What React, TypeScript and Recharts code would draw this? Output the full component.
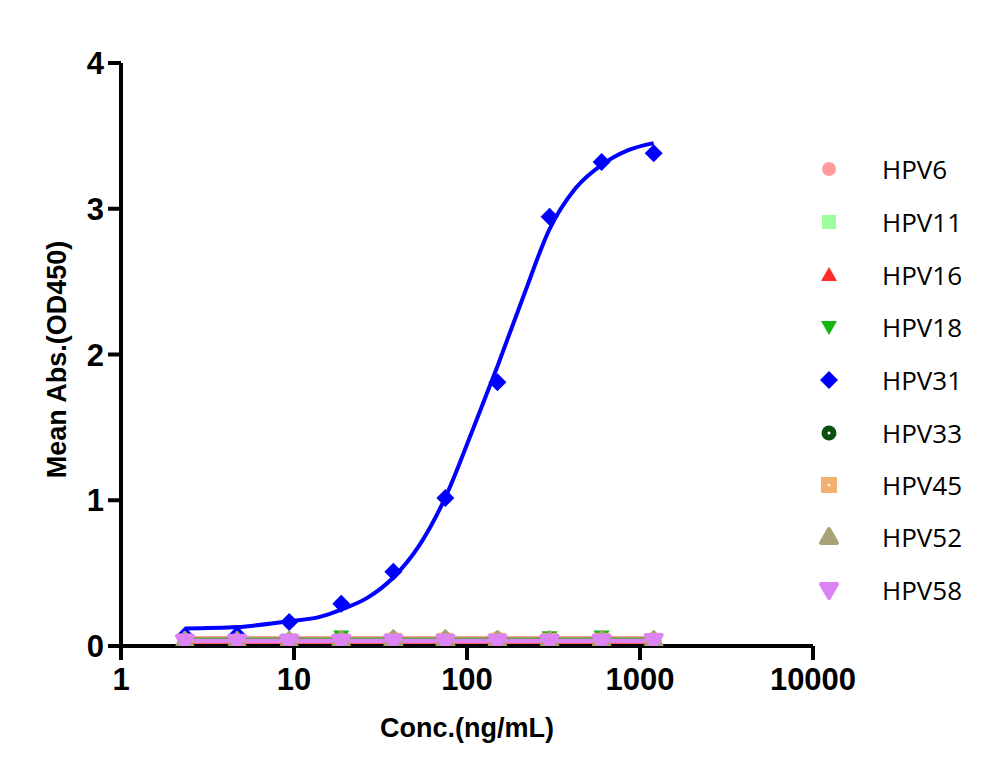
import React from "react";
import { ComposedChart, Line, Scatter, XAxis, YAxis } from "recharts";

// dilution series (ng/mL)
const conc = [2.34, 4.69, 9.38, 18.75, 37.5, 75, 150, 300, 600, 1200];

// mean OD450 per antigen
const hpv6 = [0.04, 0.04, 0.04, 0.05, 0.055, 0.055, 0.055, 0.05, 0.05, 0.05];
const hpv11 = [0.03, 0.03, 0.04, 0.04, 0.04, 0.04, 0.04, 0.04, 0.04, 0.04];
const hpv16 = [0.03, 0.03, 0.03, 0.03, 0.025, 0.025, 0.03, 0.03, 0.03, 0.025];
const hpv18 = [0.03, 0.03, 0.04, 0.065, 0.04, 0.04, 0.04, 0.06, 0.065, 0.04];
const hpv31 = [0.07, 0.075, 0.165, 0.29, 0.51, 1.015, 1.81, 2.945, 3.32, 3.38];
const hpv33 = [0.03, 0.03, 0.03, 0.035, 0.04, 0.04, 0.04, 0.045, 0.04, 0.04];
const hpv45 = [0.03, 0.025, 0.03, 0.03, 0.035, 0.035, 0.035, 0.035, 0.035, 0.035];
const hpv52 = [0.035, 0.035, 0.035, 0.04, 0.045, 0.045, 0.04, 0.04, 0.04, 0.04];
const hpv58 = [0.03, 0.03, 0.03, 0.03, 0.03, 0.03, 0.03, 0.03, 0.03, 0.035];

// fitted curve for HPV31
const curveConc = [2.34, 4.69, 9.38, 14.1, 18.75, 26.5, 37.5, 53, 75, 106, 150, 212, 300, 424, 600, 848, 1200];
const curveHpv31 = [0.12, 0.13, 0.17, 0.2, 0.25, 0.33, 0.47, 0.69, 1.02, 1.46, 1.92, 2.4, 2.86, 3.14, 3.3, 3.4, 3.45];

// flat fits of the non-binding antigens
const fitLevels = [0.055, 0.04, 0.03, 0.045, 0, 0.04, 0.035, 0.04, 0.035];

const names = ["HPV6", "HPV11", "HPV16", "HPV18", "HPV31", "HPV33", "HPV45", "HPV52", "HPV58"];
const values = [hpv6, hpv11, hpv16, hpv18, hpv31, hpv33, hpv45, hpv52, hpv58];
const colors = ["#FF9C9C", "#9CFF9C", "#FF2A2A", "#10B810", "#0000FF", "#0A5010", "#F0B070", "#AAA276", "#DD84F4"];
const shapes = ["circle", "square", "triangle", "triangleDown", "diamond", "dotCircle", "dotSquare", "roundTriangle", "roundTriangleDown"];

const xTicks = [1, 10, 100, 1000, 10000];
const yTicks = [0, 1, 2, 3, 4];

const Marker = ({ kind, cx, cy, color }: { kind: string; cx: number; cy: number; color: string }) => {
  switch (kind) {
    case "circle":
      return <circle cx={cx} cy={cy} r={7} fill={color} />;
    case "square":
      return <rect x={cx - 7} y={cy - 7} width={14} height={14} fill={color} />;
    case "triangle":
      return <path d={`M${cx},${cy - 8} L${cx + 8},${cy + 6} L${cx - 8},${cy + 6} Z`} fill={color} />;
    case "triangleDown":
      return <path d={`M${cx},${cy + 8} L${cx + 8},${cy - 6} L${cx - 8},${cy - 6} Z`} fill={color} />;
    case "diamond":
      return <path d={`M${cx},${cy - 9} L${cx + 9},${cy} L${cx},${cy + 9} L${cx - 9},${cy} Z`} fill={color} />;
    case "dotCircle":
      return (
        <g>
          <circle cx={cx} cy={cy} r={7.5} fill={color} />
          <circle cx={cx} cy={cy} r={1.5} fill="#fff" />
        </g>
      );
    case "dotSquare":
      return (
        <g>
          <rect x={cx - 8} y={cy - 8} width={16} height={16} fill={color} />
          <circle cx={cx} cy={cy} r={1.3} fill="#fff" />
        </g>
      );
    case "roundTriangle":
      return (
        <path
          d={`M${cx},${cy - 8} L${cx + 8},${cy + 6} L${cx - 8},${cy + 6} Z`}
          fill={color}
          stroke={color}
          strokeWidth={4}
          strokeLinejoin="round"
        />
      );
    case "roundTriangleDown":
      return (
        <path
          d={`M${cx},${cy + 8} L${cx + 8},${cy - 6} L${cx - 8},${cy - 6} Z`}
          fill={color}
          stroke={color}
          strokeWidth={4}
          strokeLinejoin="round"
        />
      );
    default:
      return null;
  }
};

const tickStyle = { fontSize: 31, fontWeight: "bold", fill: "#000", fontFamily: "Liberation Sans, Arial, sans-serif" };

const YTitle = (props: any) => {
  const vb = props.viewBox;
  const cx = vb.x - 4;
  const cy = vb.y + vb.height / 2 + 5;
  return (
    <text
      x={cx}
      y={cy}
      transform={`rotate(-90, ${cx}, ${cy})`}
      textAnchor="middle"
      dominantBaseline="central"
      style={{ fontSize: 27, fontWeight: "bold", fontFamily: "Liberation Sans, Arial, sans-serif" }}
      fill="#000"
    >
      Mean Abs.(OD450)
    </text>
  );
};

const legendRows = [169, 222, 275, 327, 380, 433, 485, 537, 590];

export default function App() {
  return (
    <div style={{ position: "absolute", left: 0, top: 0, width: 1000, height: 782, background: "#fff" }}>
      <ComposedChart width={1000} height={782} margin={{ top: 63, right: 187, bottom: 66, left: 61 }}>
        <XAxis
          type="number"
          dataKey="x"
          scale="log"
          domain={[1, 10000]}
          ticks={xTicks}
          allowDataOverflow
          height={70}
          axisLine={{ stroke: "#000", strokeWidth: 4 }}
          tickLine={{ stroke: "#000", strokeWidth: 4 }}
          tickSize={14}
          tickMargin={8}
          tick={tickStyle}
          label={{
            value: "Conc.(ng/mL)",
            position: "bottom",
            offset: 2,
            style: { fontSize: 27, fontWeight: "bold", fill: "#000", fontFamily: "Liberation Sans, Arial, sans-serif" }
          }}
        />
        <YAxis
          type="number"
          dataKey="y"
          domain={[0, 4]}
          ticks={yTicks}
          allowDataOverflow
          width={60}
          axisLine={{ stroke: "#000", strokeWidth: 4 }}
          tickLine={{ stroke: "#000", strokeWidth: 4 }}
          tickSize={13}
          tickMargin={4}
          tick={tickStyle}
          label={{ content: YTitle }}
        />
        {names.map((name, i) => {
          const pts = conc.map((x, j) => ({ x, y: values[i][j] }));
          const fit =
            name === "HPV31"
              ? curveConc.map((x, j) => ({ x, y: curveHpv31[j] }))
              : [
                  { x: conc[0], y: fitLevels[i] },
                  { x: conc[conc.length - 1], y: fitLevels[i] }
                ];
          return [
            <Line
              key={name + "-fit"}
              data={fit}
              dataKey="y"
              type="monotone"
              stroke={colors[i]}
              strokeWidth={4}
              dot={false}
              activeDot={false}
              isAnimationActive={false}
            />,
            <Scatter
              key={name + "-pts"}
              name={name}
              data={pts}
              dataKey="y"
              isAnimationActive={false}
              shape={(p: any) => <Marker kind={shapes[i]} cx={p.cx} cy={p.cy} color={colors[i]} />}
            />
          ];
        })}
      </ComposedChart>
      {names.map((name, i) => (
        <div
          key={name}
          style={{
            position: "absolute",
            left: 814,
            top: legendRows[i] - 16,
            height: 32,
            display: "flex",
            alignItems: "center"
          }}
        >
          <svg width={30} height={32}>
            <Marker kind={shapes[i]} cx={15} cy={16} color={colors[i]} />
          </svg>
          <span
            style={{
              marginLeft: 38,
              fontSize: 26,
              fontFamily: "Open Sans, Liberation Sans, sans-serif",
              color: "#000"
            }}
          >
            {name}
          </span>
        </div>
      ))}
    </div>
  );
}
